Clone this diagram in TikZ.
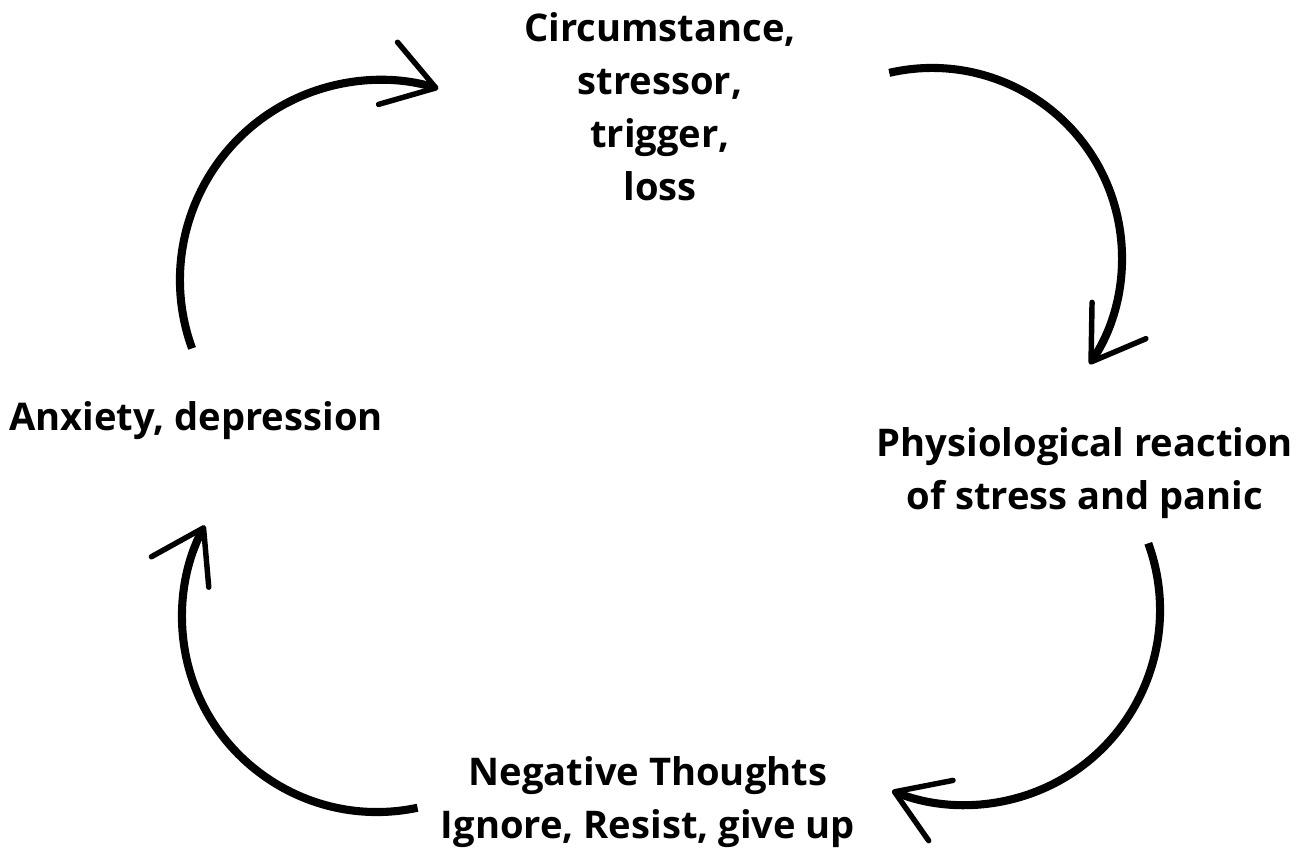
\documentclass[tikz,border=0pt]{standalone}
\usepackage{fontspec}
\setmainfont{Open Sans}
\usetikzlibrary{arrows.meta}

\begin{document}
\begin{tikzpicture}[lbl/.style={align=center,inner sep=0pt,font=\bfseries\fontsize{21.7}{30.2}\selectfont},
  cyc/.style={line width=4.6pt,-{Straight Barb[length=1cm,width=1.3cm,line width=3.1pt,round]}}]
\useasboundingbox (0,0) rectangle (26.12,17);
\node[lbl] at (13.2,14.86) (C) {Circumstance,\\stressor,\\trigger,\\loss};
\node[lbl] at (21.7,7.54) (P) {Physiological reaction\\of stress and panic};
\node[lbl] at (12.96,0.95) (N) {Negative Thoughts\\Ignore, Resist, give up};
\node[lbl] at (3.92,8.58) (A) {Anxiety, depression};
\coordinate (a1) at (3.841,10.032);
\coordinate (a2) at (17.785,15.543);
\coordinate (a3) at (22.965,6.134);
\coordinate (a4) at (8.351,0.845);
\draw[cyc] (a1) arc[start angle=200, end angle=73, radius=4];
\draw[cyc] (a2) arc[start angle=103, end angle=-34, radius=3.8];
\draw[cyc] (a3) arc[start angle=20, end angle=-112, radius=3.9];
\draw[cyc] (a4) arc[start angle=282, end angle=152, radius=3.9];
\end{tikzpicture}
\end{document}
